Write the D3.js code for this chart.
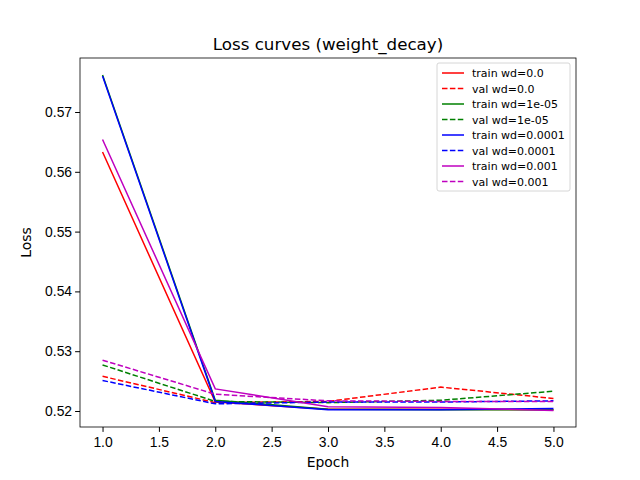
<!DOCTYPE html>
<html><head><meta charset="utf-8">
<script src="https://cdn.jsdelivr.net/npm/d3@7"></script>
<style>body{margin:0;background:#fff}svg{font-family:"DejaVu Sans",sans-serif}</style>
</head><body><svg id="c" width="640" height="480"></svg>
<script>
const epochs = [1, 2, 3, 4, 5];
const labels = ["train wd=0.0","val wd=0.0","train wd=1e-05","val wd=1e-05","train wd=0.0001","val wd=0.0001","train wd=0.001","val wd=0.001"];
const colors = ["#ff0000","#ff0000","#008000","#008000","#0000ff","#0000ff","#bf00bf","#bf00bf"];
const dashed = [false,true,false,true,false,true,false,true];
const trainWd0 = [0.5633, 0.5215, 0.5203, 0.5203, 0.5202];
const valWd0 = [0.5258, 0.5214, 0.5216, 0.5240, 0.5221];
const trainWd1e5 = [0.5762, 0.5218, 0.5203, 0.5202, 0.5202];
const valWd1e5 = [0.5277, 0.5216, 0.5214, 0.5218, 0.5233];
const trainWd1e4 = [0.5760, 0.5216, 0.5202, 0.5202, 0.5204];
const valWd1e4 = [0.5251, 0.5212, 0.5215, 0.5215, 0.5217];
const trainWd1e3 = [0.5654, 0.5237, 0.5207, 0.5206, 0.5201];
const valWd1e3 = [0.5285, 0.5228, 0.5217, 0.5216, 0.5216];
const series = [trainWd0, valWd0, trainWd1e5, valWd1e5, trainWd1e4, valWd1e4, trainWd1e3, valWd1e3];

const svg = d3.select("#c");
const L = 80, R = 576, T = 58, B = 427;
const x = d3.scaleLinear().domain([0.8, 5.2]).range([L, R]);
const y = d3.scaleLinear().domain([0.52 - (427-411)/5980, 0.52 + (411-58)/5980]).range([B, T]);

svg.append("g").attr("transform", `translate(0,${B})`)
  .call(d3.axisBottom(x).tickValues(d3.range(1, 5.01, 0.5)).tickFormat(d3.format(".1f")).tickSizeOuter(0).tickSize(4.9))
  .call(g => g.selectAll("text").attr("font-size", 13.9).attr("fill", "#000").attr("dy", "0.9em"));
svg.append("g").attr("transform", `translate(${L},0)`)
  .call(d3.axisLeft(y).tickValues([0.52,0.53,0.54,0.55,0.56,0.57]).tickFormat(d3.format(".2f")).tickSizeOuter(0).tickSize(4.9))
  .call(g => g.selectAll("text").attr("font-size", 13.9).attr("fill", "#000"));
svg.selectAll(".domain").remove();
svg.append("rect").attr("x", L).attr("y", T).attr("width", R-L).attr("height", B-T)
  .attr("fill", "none").attr("stroke", "#000").attr("stroke-width", 0.8);

const line = d3.line().x((d, i) => x(epochs[i])).y(d => y(d));
series.forEach((s, k) => {
  svg.append("path").datum(s).attr("d", line).attr("fill", "none")
    .attr("stroke", colors[k]).attr("stroke-width", 1.5)
    .attr("stroke-dasharray", dashed[k] ? "5.5,2.4" : null);
});

svg.append("text").attr("x", (L+R)/2).attr("y", 50).attr("text-anchor", "middle").attr("font-size", 16.7).text("Loss curves (weight_decay)");
svg.append("text").attr("x", (L+R)/2).attr("y", 467).attr("text-anchor", "middle").attr("font-size", 13.9).text("Epoch");
svg.append("text").attr("transform", `translate(31,${(T+B)/2}) rotate(-90)`).attr("text-anchor", "middle").attr("font-size", 13.9).text("Loss");

const lg = svg.append("g").attr("transform", "translate(437,63)");
lg.append("rect").attr("width", 133).attr("height", 128).attr("rx", 2).attr("fill", "#fff").attr("stroke", "#ccc").attr("stroke-width", 0.8);
labels.forEach((t, k) => {
  const yy = 10 + k * 15.5;
  lg.append("line").attr("x1", 5).attr("x2", 27).attr("y1", yy).attr("y2", yy)
    .attr("stroke", colors[k]).attr("stroke-width", 1.5).attr("stroke-dasharray", dashed[k] ? "5.5,2.4" : null);
  lg.append("text").attr("x", 35).attr("y", yy + 4).attr("font-size", 11).text(t);
});
</script></body></html>
